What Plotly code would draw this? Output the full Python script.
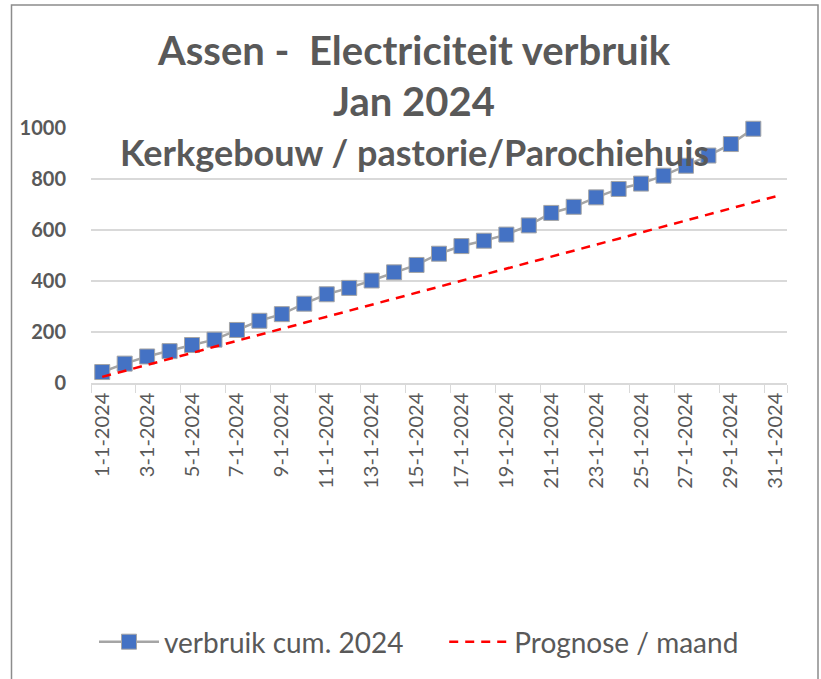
import plotly.graph_objects as go

days = [f"{d}-1-2024" for d in range(1, 32)]
verbruik = [43, 76, 104, 125, 149, 170, 208, 244, 270, 311, 348, 373, 402, 434, 463,
            507, 537, 558, 582, 618, 667, 691, 728, 761, 782, 813, 852, 892, 937, 997]
prognose = [24, 47, 71, 94, 118, 142, 165, 189, 212, 236, 260, 283, 307, 330, 354, 378,
            401, 425, 448, 472, 496, 519, 543, 566, 590, 614, 637, 661, 684, 708, 732]
title_lines = ["Assen -  Electriciteit verbruik", "Jan 2024", "Kerkgebouw / pastorie/Parochiehuis"]
series_names = ["verbruik cum. 2024", "Prognose / maand"]
yticks = [0, 200, 400, 600, 800, 1000]

GRAY = "#595959"
FONT = "Lato"
PAD = "\u00a0" * 5

fig = go.Figure()
fig.add_trace(go.Scatter(
    x=days[:len(verbruik)], y=verbruik, name=series_names[0] + PAD,
    mode="lines+markers",
    line=dict(color="#a5a5a5", width=2.5),
    marker=dict(symbol="square", size=15, color="#4472C4",
                line=dict(color="#a5a5a5", width=1)),
    cliponaxis=False,
))
fig.add_trace(go.Scatter(
    x=days, y=prognose, name=series_names[1], mode="lines",
    line=dict(color="#FF0000", width=2.5, dash="9px,7px"),
    cliponaxis=False,
))

W, H = 821, 679
L, R, T, B = 91, 34, 128, 296
plot_h = H - T - B
plot_w = W - L - R

def py(pix):
    return (H - B - pix) / plot_h

def px(pix):
    return (pix - L) / plot_w

annotations = []
for text, ypix, size in zip(title_lines, [50, 101, 152], [40, 40, 36]):
    annotations.append(dict(text=f"<b>{text}</b>", x=px(414), xref="paper",
                            xanchor="center", y=py(ypix), yref="paper",
                            yanchor="middle", showarrow=False,
                            font=dict(family=FONT, size=size, color=GRAY)))

fig.update_layout(
    width=W, height=H,
    margin=dict(l=L, r=R, t=T, b=B),
    paper_bgcolor="white", plot_bgcolor="white",
    showlegend=True,
    legend=dict(orientation="h", x=px(419), xanchor="center", y=py(642),
                yanchor="middle", font=dict(family=FONT, size=28, color=GRAY),
                itemwidth=60, traceorder="normal"),
    annotations=annotations,
    shapes=[dict(type="rect", xref="paper", yref="paper",
                 x0=px(11.5), x1=px(818),
                 y0=py(700), y1=py(5),
                 line=dict(color="#8c8c8c", width=1.5), fillcolor="rgba(0,0,0,0)",
                 layer="below")],
    xaxis=dict(type="category", categoryorder="array", categoryarray=days,
               range=[-0.5, 30.5], tickmode="array", tickvals=days[::2],
               ticktext=days[::2], tickangle=-90, tickson="boundaries",
               ticks="outside", ticklen=8, tickcolor="#d9d9d9",
               showline=True, linecolor="#d9d9d9", linewidth=1.5,
               showgrid=False, tickfont=dict(family=FONT, size=20, color=GRAY)),
    yaxis=dict(range=[0, 1000], tickvals=yticks, showgrid=True,
               gridcolor="#d9d9d9", gridwidth=1.5, zeroline=False,
               showline=False, ticks="", ticklabelstandoff=24,
               tickfont=dict(family=FONT, size=20, color=GRAY, weight="bold")),
)

fig.write_html("out.html", config={"displayModeBar": False},
               post_script="document.body.style.margin='0';")
